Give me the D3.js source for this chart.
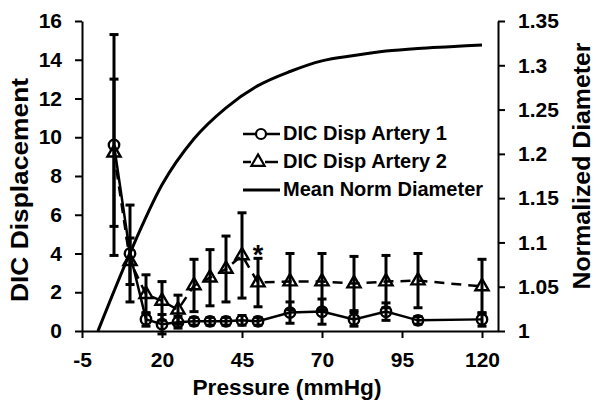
<!DOCTYPE html>
<html>
<head>
<meta charset="utf-8">
<script src="https://cdn.jsdelivr.net/npm/d3@7"></script>
<style>
  body { margin: 0; background: #fff; }
  svg { display: block; font-family: "Liberation Sans", Arial, sans-serif; font-weight: bold; }
  .axis path, .axis line { stroke: #000; stroke-width: 2; }
  .axis text { font-size: 21px; font-weight: bold; fill: #000; }
</style>
</head>
<body>
<svg id="chart" width="602" height="411"></svg>
<script>
// data
const pressure = [5, 10, 15, 20, 25, 30, 35, 40, 45, 50, 60, 70, 80, 90, 100, 120];
const artery1 = [9.6, 4.0, 0.6, 0.35, 0.45, 0.5, 0.5, 0.5, 0.55, 0.5, 0.95, 1.0, 0.6, 1.0, 0.55, 0.6];
const artery1Err = [5.7, 2.5, 0.35, 0.5, 0.3, 0.2, 0.2, 0.2, 0.25, 0.2, 0.55, 0.65, 0.35, 0.45, 0.2, 0.35];
const artery2 = [9.2, 3.6, 1.9, 1.55, 1.1, 2.35, 2.75, 3.2, 3.9, 2.5, 2.55, 2.55, 2.45, 2.55, 2.6, 2.3];
const artery2Err = [3.8, 1.2, 1.0, 1.0, 0.75, 1.35, 1.45, 1.7, 2.2, 1.25, 1.45, 1.45, 1.4, 1.35, 1.4, 1.4];
const diamPressure = [0, 10, 20, 30, 40, 50, 60, 70, 80, 90, 100, 110, 120];
const diameter = [1.0, 1.088, 1.165, 1.217, 1.252, 1.277, 1.293, 1.305, 1.311, 1.316, 1.319, 1.321, 1.323];
const sigPressure = [50];

const xTicks = [-5, 20, 45, 70, 95, 120];
const yLeftTicks = [0, 2, 4, 6, 8, 10, 12, 14, 16];
const yRightTicks = [1, 1.05, 1.1, 1.15, 1.2, 1.25, 1.3, 1.35];
const legendLabels = ['DIC Disp Artery 1', 'DIC Disp Artery 2', 'Mean Norm Diameter'];

const svg = d3.select('#chart');
const plotL = 82, plotR = 498, plotT = 21, plotB = 331;

const x = d3.scaleLinear().domain([-5, 125]).range([plotL, plotR]);
const yL = d3.scaleLinear().domain([0, 16]).range([plotB, plotT]);
const yR = d3.scaleLinear().domain([1, 1.35]).range([plotB, plotT]);

// axes
svg.append('g').attr('class', 'axis')
  .attr('transform', `translate(0,${plotB})`)
  .call(d3.axisBottom(x).tickValues(xTicks).tickSize(7).tickPadding(14).tickSizeOuter(0).tickFormat(d => String(d)));

svg.append('g').attr('class', 'axis')
  .attr('transform', `translate(${plotL},0)`)
  .call(d3.axisLeft(yL).tickValues(yLeftTicks).tickSize(7).tickPadding(13).tickSizeOuter(0));

svg.append('g').attr('class', 'axis')
  .attr('transform', `translate(${plotR},0)`)
  .call(d3.axisRight(yR).tickValues(yRightTicks).tickSize(7).tickPadding(13).tickSizeOuter(0)
    .tickFormat(d => String(+d.toFixed(2))));

// axis titles
svg.append('text')
  .attr('x', 287).attr('y', 395)
  .attr('text-anchor', 'middle')
  .attr('font-size', 22)
  .attr('textLength', 189).attr('lengthAdjust', 'spacingAndGlyphs')
  .text('Pressure (mmHg)');

svg.append('text')
  .attr('transform', 'translate(28,190) rotate(-90)')
  .attr('text-anchor', 'middle')
  .attr('font-size', 23)
  .attr('textLength', 224).attr('lengthAdjust', 'spacingAndGlyphs')
  .text('DIC Displacement');

svg.append('text')
  .attr('transform', 'translate(590,166) rotate(-90)')
  .attr('text-anchor', 'middle')
  .attr('font-size', 24)
  .attr('textLength', 247).attr('lengthAdjust', 'spacingAndGlyphs')
  .text('Normalized Diameter');

// mean diameter curve (right axis)
const diamData = diamPressure.map((p, i) => [p, diameter[i]]);
svg.append('path')
  .datum(diamData)
  .attr('fill', 'none')
  .attr('stroke', '#000')
  .attr('stroke-width', 3)
  .attr('d', d3.line().x(d => x(d[0])).y(d => yR(d[1])).curve(d3.curveMonotoneX));

const tri = d3.symbol().type(d3.symbolTriangle).size(75);

function drawSeries(vals, errs, dashed, marker) {
  const data = pressure.map((p, i) => ({ p, v: vals[i], e: errs[i] }));
  const g = svg.append('g');
  g.append('path')
    .datum(data)
    .attr('fill', 'none')
    .attr('stroke', '#000')
    .attr('stroke-width', 2.5)
    .attr('stroke-dasharray', dashed ? '10,7' : null)
    .attr('d', d3.line().x(d => x(d.p)).y(d => yL(d.v)));

  const eb = g.selectAll('.err').data(data).enter().append('g')
    .attr('stroke', '#000').attr('stroke-width', 3);
  eb.append('line')
    .attr('x1', d => x(d.p)).attr('x2', d => x(d.p))
    .attr('y1', d => yL(d.v + d.e)).attr('y2', d => yL(d.v - d.e));
  eb.append('line')
    .attr('x1', d => x(d.p) - 4.5).attr('x2', d => x(d.p) + 4.5)
    .attr('y1', d => yL(d.v + d.e)).attr('y2', d => yL(d.v + d.e));
  eb.append('line')
    .attr('x1', d => x(d.p) - 4.5).attr('x2', d => x(d.p) + 4.5)
    .attr('y1', d => yL(d.v - d.e)).attr('y2', d => yL(d.v - d.e));

  if (marker === 'circle') {
    g.selectAll('.mk').data(data).enter().append('circle')
      .attr('cx', d => x(d.p)).attr('cy', d => yL(d.v)).attr('r', 5.2)
      .attr('fill', 'none').attr('stroke', '#000').attr('stroke-width', 2.4);
  } else {
    g.selectAll('.mk').data(data).enter().append('path')
      .attr('transform', d => `translate(${x(d.p)},${yL(d.v)})`)
      .attr('d', tri)
      .attr('fill', 'none').attr('stroke', '#000').attr('stroke-width', 2.4);
  }
  return data;
}

drawSeries(artery2, artery2Err, true, 'triangle');
drawSeries(artery1, artery1Err, false, 'circle');

// significance marker
sigPressure.forEach(p => {
  const i = pressure.indexOf(p);
  svg.append('text')
    .attr('x', x(p)).attr('y', yL(artery2[i] + artery2Err[i]) + 6)
    .attr('text-anchor', 'middle')
    .attr('font-size', 27)
    .text('*');
});

// legend
const lg = svg.append('g');
const rowY = [134, 162, 190];
legendLabels.forEach((t, i) => {
  const y = rowY[i];
  if (i === 1) {
    lg.append('line').attr('x1', 243).attr('x2', 251).attr('y1', y).attr('y2', y)
      .attr('stroke', '#000').attr('stroke-width', 2.5);
    lg.append('line').attr('x1', 265).attr('x2', 278).attr('y1', y).attr('y2', y)
      .attr('stroke', '#000').attr('stroke-width', 2.5);
    lg.append('path').attr('transform', `translate(258,${y})`).attr('d', tri)
      .attr('fill', 'none').attr('stroke', '#000').attr('stroke-width', 2.2);
  } else {
    lg.append('line').attr('x1', 243).attr('x2', 280).attr('y1', y).attr('y2', y)
      .attr('stroke', '#000').attr('stroke-width', i === 2 ? 3 : 2.5);
    if (i === 0) {
      lg.append('circle').attr('cx', 261).attr('cy', y).attr('r', 5)
        .attr('fill', '#fff').attr('stroke', '#000').attr('stroke-width', 2.2);
    }
  }
  lg.append('text').attr('x', 283).attr('y', y + 6)
    .attr('font-size', 20).text(t);
});
</script>
</body>
</html>
